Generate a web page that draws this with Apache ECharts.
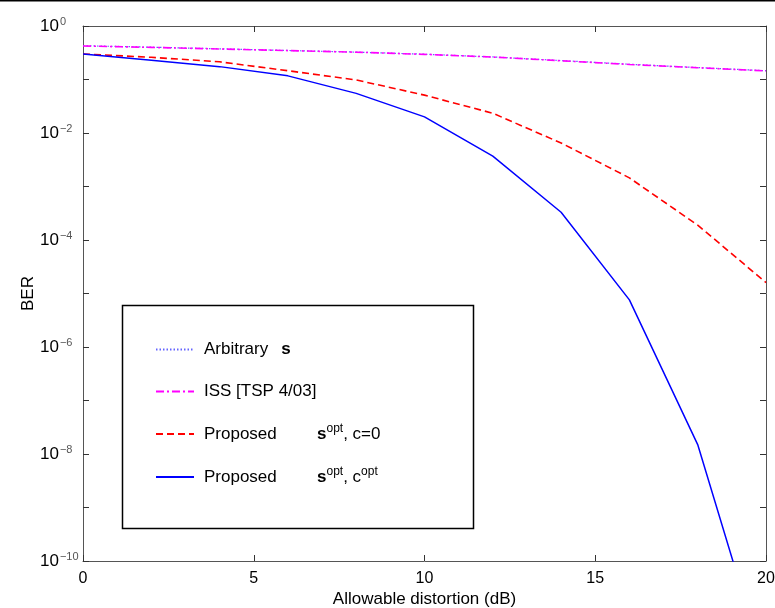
<!DOCTYPE html>
<html>
<head>
<meta charset="utf-8">
<script src="https://cdn.jsdelivr.net/npm/echarts@6/dist/echarts.min.js"></script>
<style>html,body{margin:0;padding:0;background:#fff}#c{width:775px;height:608px}</style>
</head>
<body>
<div id="c"></div>
<script>
var distortion = [0, 2, 4, 6, 8, 10, 12, 14, 16, 18, 20];
var berArbitrary = [0.428, 0.402, 0.375, 0.349, 0.325, 0.297, 0.264, 0.226, 0.193, 0.167, 0.146];
var berISS = [0.423, 0.398, 0.372, 0.347, 0.324, 0.295, 0.263, 0.224, 0.191, 0.166, 0.145];
var berPropC0 = [0.30, 0.26, 0.214, 0.146, 0.098, 0.051, 0.0234, 0.0065, 0.00145, 0.00019, 0.000016];
var berPropCopt = [0.30, 0.23, 0.174, 0.117, 0.055, 0.020, 0.0037, 0.00033, 0.0000076, 0.000000015, 9e-13];
var xTicks = [0, 5, 10, 15, 20];
var yMinExp = -10, yMaxExp = 0;

var names = ['Arbitrary s', 'ISS [TSP 4/03]', 'Proposed s^opt, c=0', 'Proposed s^opt, c^opt'];
var legendRich = [
  '{t|Arbitrary}{bs|s}',
  '{t|ISS [TSP 4/03]}',
  '{w|Proposed}{b|s}{sup|opt}{t|, c=0}',
  '{w|Proposed}{b|s}{sup|opt}{t|, c}{sup|opt}'
];
function pairs(ys) { return distortion.map(function (x, i) { return [x, ys[i]]; }); }

var font = 'Liberation Sans, Arial, Helvetica, sans-serif';
var axisColor = '#555';
var legendRowTops = [341, 383, 423, 466];
var legends = names.map(function (n, i) {
  return {
    orient: 'vertical', left: 155, top: legendRowTops[i], z: 10,
    itemWidth: 38, itemHeight: 14, padding: 0,
    data: [n],
    itemStyle: { opacity: 0 },
    formatter: function () { return legendRich[i]; },
    textStyle: {
      padding: [0, 0, 0, 5],
      rich: {
        t: { fontFamily: font, fontSize: 17, color: '#000', lineHeight: 22 },
        w: { fontFamily: font, fontSize: 17, color: '#000', lineHeight: 22, width: 113 },
        b: { fontFamily: font, fontSize: 17, fontWeight: 'bold', color: '#000', lineHeight: 22 },
        bs: { fontFamily: font, fontSize: 17, fontWeight: 'bold', color: '#000', lineHeight: 22, padding: [0, 0, 0, 13] },
        sup: { fontFamily: font, fontSize: 12, color: '#000', verticalAlign: 'top', lineHeight: 13 }
      }
    }
  };
});

function tick() { return { show: true, inside: true, length: 6, lineStyle: { color: '#333', width: 1 } }; }
function line() { return { show: true, onZero: false, lineStyle: { color: axisColor, width: 1 } }; }
var chart = echarts.init(document.getElementById('c'));
chart.setOption({
  animation: false,
  backgroundColor: '#fff',
  grid: { left: 83, right: 9, top: 26, bottom: 47, containLabel: false, outerBoundsMode: 'none' },
  xAxis: [{
    type: 'value', min: xTicks[0], max: xTicks[xTicks.length - 1], interval: 5,
    name: 'Allowable distortion (dB)', nameLocation: 'middle', nameGap: 30, nameMoveOverlap: false,
    nameTextStyle: { fontFamily: font, fontSize: 17, color: '#000' },
    axisLine: line(), axisTick: tick(),
    axisLabel: { fontFamily: font, fontSize: 16, color: '#000', margin: 10 },
    splitLine: { show: false }
  }, {
    type: 'value', position: 'top', min: 0, max: 20, interval: 5,
    axisLine: line(), axisTick: tick(),
    axisLabel: { show: false }, splitLine: { show: false }
  }],
  yAxis: [{
    type: 'log', logBase: 10, min: Math.pow(10, yMinExp), max: Math.pow(10, yMaxExp), interval: 1,
    name: 'BER', nameLocation: 'middle', nameGap: 46, nameMoveOverlap: false,
    nameTextStyle: { fontFamily: font, fontSize: 17, color: '#000' },
    axisLine: line(), axisTick: tick(),
    axisLabel: {
      margin: 43, align: 'left',
      formatter: function (v) {
        var e = Math.round(Math.log10(v));
        if (e % 2 !== 0) return '';
        return '{b|10}{e|' + (e < 0 ? '\u2212' + (-e) : e) + '}';
      },
      rich: {
        b: { fontFamily: font, fontSize: 17, color: '#000', lineHeight: 20 },
        e: { fontFamily: font, fontSize: 11, color: '#555', verticalAlign: 'top', lineHeight: 12, padding: [0, 0, 0, 1] }
      }
    },
    splitLine: { show: false }
  }, {
    type: 'log', logBase: 10, position: 'right', min: Math.pow(10, yMinExp), max: Math.pow(10, yMaxExp), interval: 1,
    axisLine: line(), axisTick: tick(),
    axisLabel: { show: false }, splitLine: { show: false }
  }],
  legend: legends,
  graphic: [
    { type: 'rect', z: 5, shape: { x: 122.5, y: 305.5, width: 351, height: 223 },
      style: { fill: '#fff', stroke: '#000', lineWidth: 1.5 } },
    { type: 'line', z: 5, shape: { x1: 0, y1: 0.75, x2: 775, y2: 0.75 },
      style: { stroke: '#000', lineWidth: 1.5 } }
  ],
  series: [
    { name: names[0], type: 'line', data: pairs(berArbitrary), symbol: 'none', clip: true,
      lineStyle: { color: '#6464ff', width: 1.2, type: [1.5, 2] }, itemStyle: { color: '#6464ff' } },
    { name: names[1], type: 'line', data: pairs(berISS), symbol: 'none', clip: true,
      lineStyle: { color: '#ff00ff', width: 1.6, type: [8, 3, 2, 3] }, itemStyle: { color: '#ff00ff' } },
    { name: names[2], type: 'line', data: pairs(berPropC0), symbol: 'none', clip: true,
      lineStyle: { color: '#ff0000', width: 1.6, type: [7, 4] }, itemStyle: { color: '#ff0000' } },
    { name: names[3], type: 'line', data: pairs(berPropCopt), symbol: 'none', clip: true,
      lineStyle: { color: '#0000ff', width: 1.5, type: 'solid' }, itemStyle: { color: '#0000ff' } }
  ]
});
</script>
</body>
</html>
